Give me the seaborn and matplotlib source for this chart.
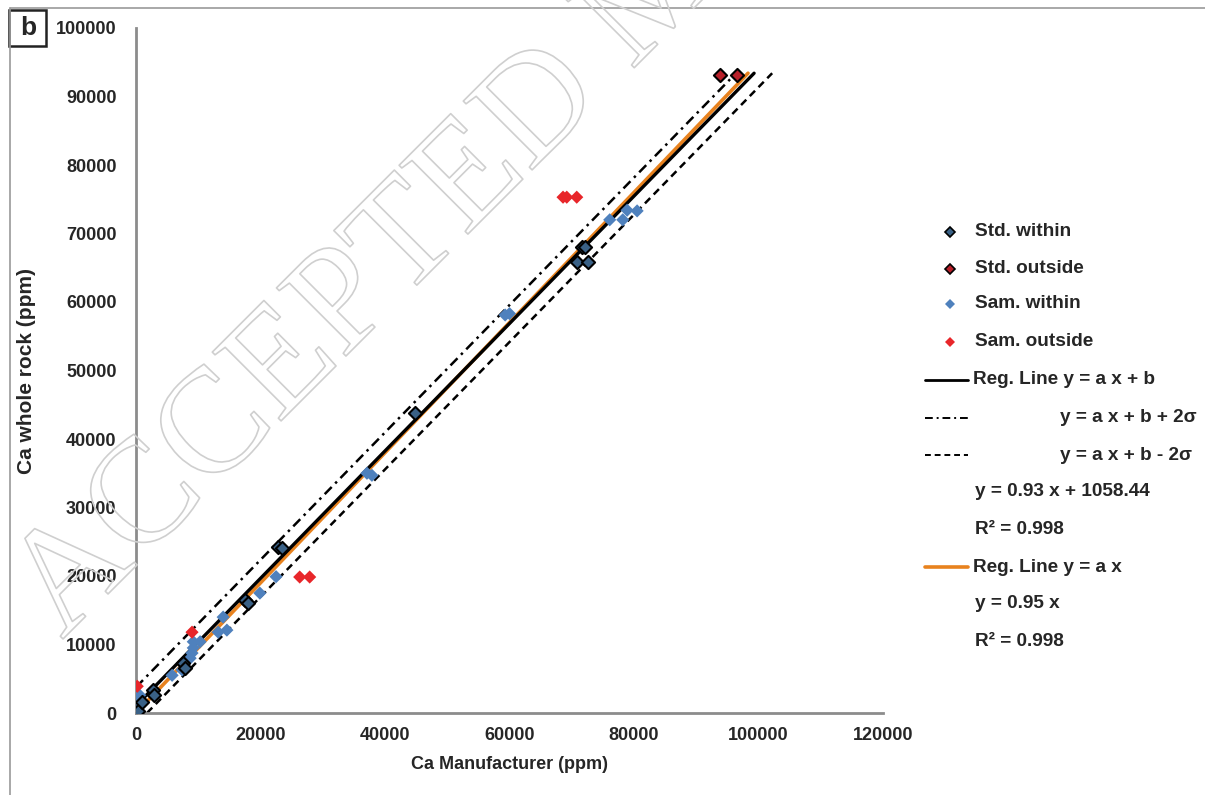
import matplotlib
matplotlib.use("Agg")
import matplotlib.pyplot as plt
import numpy as np
import pandas as pd
import seaborn as sns
from matplotlib import patheffects
from matplotlib.lines import Line2D
from matplotlib.patches import Rectangle

# Standards inside the 2-sigma band
std_within_x = [300, 960, 2700, 2900, 7550, 7900, 17500, 18000, 22800, 23400,
                44800, 71700, 72150, 70900, 72600]
std_within_y = [300, 1600, 3350, 2600, 7300, 6600, 16500, 16000, 24300, 24100,
                43800, 68000, 68000, 65800, 65800]

# Standards outside the band
std_outside_x = [93800, 96500]
std_outside_y = [93200, 93200]

# Samples inside the band
sam_within_x = [0, 300, 600, 5800, 7400, 8700, 9000, 9200, 9200, 10300, 13200,
                14000, 14600, 19900, 22500, 37100, 37900, 59300, 60000, 76100,
                78200, 78900, 80500]
sam_within_y = [1000, 1900, 2600, 5500, 6300, 8000, 8750, 9500, 10400, 10400,
                11800, 14000, 12100, 17500, 19900, 35000, 34700, 58100, 58300,
                72000, 72000, 73400, 73300]

# Samples outside the band
sam_outside_x = [200, 9000, 26300, 27900, 68600, 69200, 70800]
sam_outside_y = [3900, 11800, 19850, 19850, 75300, 75300, 75300]

# Regression parameters
slope_ab, intercept_ab = 0.93, 1058.44
two_sigma = 2700
slope_a = 0.95
y_line_top = 93400

x_ticks = [0, 20000, 40000, 60000, 80000, 100000, 120000]
y_ticks = [0, 10000, 20000, 30000, 40000, 50000, 60000, 70000, 80000, 90000, 100000]

sns.set_style("white")
plt.rcParams["font.family"] = ["Liberation Sans", "DejaVu Sans"]
plt.rcParams["font.weight"] = "bold"

W, H = 1205, 795
fig = plt.figure(figsize=(W / 100, H / 100), dpi=100)
ax = fig.add_axes([136 / W, 1 - 713 / H, (883 - 136) / W, (713 - 28) / H])


def fig_xy(px, py):
    return px / W, 1 - py / H


def line_points(a, b):
    x0 = max(0.0, -b / a)
    x1 = (y_line_top - b) / a
    xs = np.array([x0, x1])
    return pd.DataFrame({"x": xs, "y": a * xs + b})


upper = line_points(slope_ab, intercept_ab + two_sigma)
lower = line_points(slope_ab, intercept_ab - two_sigma)
reg_ab = line_points(slope_ab, intercept_ab)
reg_a = line_points(slope_a, 0.0)

sns.lineplot(data=upper, x="x", y="y", ax=ax, color="black", lw=1.8,
             linestyle=(0, (4, 2, 1, 2)), estimator=None, sort=False, zorder=2)
sns.lineplot(data=lower, x="x", y="y", ax=ax, color="black", lw=1.8,
             linestyle=(0, (3, 2)), estimator=None, sort=False, zorder=2)
sns.lineplot(data=reg_a, x="x", y="y", ax=ax, color="#e8821e", lw=2.6,
             estimator=None, sort=False, zorder=2)
sns.lineplot(data=reg_ab, x="x", y="y", ax=ax, color="black", lw=2.4,
             estimator=None, sort=False, zorder=3)

sns.scatterplot(x=sam_within_x, y=sam_within_y, ax=ax, marker="D", s=45,
                color="#4f81bd", edgecolor="none", zorder=4)
sns.scatterplot(x=sam_outside_x, y=sam_outside_y, ax=ax, marker="D", s=45,
                color="#e8262a", edgecolor="none", zorder=4)
sns.scatterplot(x=std_within_x, y=std_within_y, ax=ax, marker="D", s=45,
                color="#3a6186", edgecolor="black", linewidth=1.5, zorder=5)
sns.scatterplot(x=std_outside_x, y=std_outside_y, ax=ax, marker="D", s=45,
                color="#b8202a", edgecolor="black", linewidth=1.5, zorder=5)

ax.set_xlim(0, 120000)
ax.set_ylim(0, 100000)
ax.set_xticks(x_ticks)
ax.set_yticks(y_ticks)
ax.set_xticklabels([str(t) for t in x_ticks])
ax.set_yticklabels([str(t) for t in y_ticks])
for side in ["top", "right"]:
    ax.spines[side].set_visible(False)
for side in ["left", "bottom"]:
    ax.spines[side].set_color("#8c8c8c")
    ax.spines[side].set_linewidth(2)
ax.tick_params(axis="y", direction="out", length=4, width=1.5, color="#8c8c8c",
               pad=10, labelsize=13)
ax.tick_params(axis="x", direction="in", length=5, width=1.5, color="#8c8c8c",
               pad=10, labelsize=13)
ax.set_xlabel("Ca Manufacturer (ppm)", fontsize=13, fontweight="bold", labelpad=9)
ax.set_ylabel("Ca whole rock (ppm)", fontsize=15, fontweight="bold", labelpad=14)
ax.patch.set_alpha(0)

# Legend block drawn in figure pixels
leg_fs = 13.7
marker_entries = [
    ("Std. within", "#3a6186", "black", 232),
    ("Std. outside", "#b8202a", "black", 269),
    ("Sam. within", "#4f81bd", "none", 304),
    ("Sam. outside", "#e8262a", "none", 342),
]
for label, fc, ec, py in marker_entries:
    mx, my = fig_xy(950, py)
    fig.add_artist(Line2D([mx], [my], transform=fig.transFigure, marker="D",
                          markersize=5.5, markerfacecolor=fc, markeredgecolor=ec,
                          markeredgewidth=1.2, linestyle="none"))
    tx, ty = fig_xy(975, py)
    fig.text(tx, ty, label, fontsize=leg_fs, fontweight="bold", va="center", ha="left")

line_entries = [
    ("Reg. Line y = a x + b", "black", "-", 2.0, 380, 973),
    ("y = a x + b + 2σ", "black", (0, (4, 2, 1, 2)), 1.4, 418, 1060),
    ("y = a x + b - 2σ", "black", (0, (3, 2)), 1.4, 455, 1060),
    ("Reg. Line y = a x", "#e8821e", "-", 2.6, 567, 973),
]
for label, col, ls, lw, py, tpx in line_entries:
    x0, y0 = fig_xy(925, py)
    x1, _ = fig_xy(968, py)
    fig.add_artist(Line2D([x0, x1], [y0, y0], transform=fig.transFigure,
                          color=col, linestyle=ls, lw=lw))
    tx, ty = fig_xy(tpx, py)
    fig.text(tx, ty, label, fontsize=leg_fs, fontweight="bold", va="center", ha="left")

text_entries = [
    ("y = 0.93 x + 1058.44", 492),
    ("R² = 0.998", 530),
    ("y = 0.95 x", 604),
    ("R² = 0.998", 641),
]
for label, py in text_entries:
    tx, ty = fig_xy(975, py)
    fig.text(tx, ty, label, fontsize=leg_fs, fontweight="bold", va="center", ha="left")

# Panel frame and tag
fig.add_artist(Line2D([10 / W, 10 / W], [0, 1 - 8 / H], transform=fig.transFigure,
                      color="#9a9a9a", lw=1.2))
fig.add_artist(Line2D([10 / W, 1], [1 - 8 / H, 1 - 8 / H], transform=fig.transFigure,
                      color="#9a9a9a", lw=1.2))
bx, by = fig_xy(9, 46)
fig.add_artist(Rectangle((bx, by), 37 / W, 36 / H, transform=fig.transFigure,
                         facecolor="white", edgecolor="#222222", lw=1.8))
tx, ty = fig_xy(28, 28)
fig.text(tx, ty, "b", fontsize=19, fontweight="bold", ha="center", va="center")

# Watermark
wx, wy = fig_xy(62, 640)
fig.text(wx, wy, "ACCEPTED M", fontsize=107, rotation=45,
         rotation_mode="anchor", ha="left", va="baseline",
         family=["Liberation Serif", "DejaVu Serif"], fontweight="normal",
         color=(1, 1, 1, 0),
         path_effects=[patheffects.Stroke(linewidth=1.2, foreground="#cfcfcf")])

fig.savefig("out.png", dpi=100)
